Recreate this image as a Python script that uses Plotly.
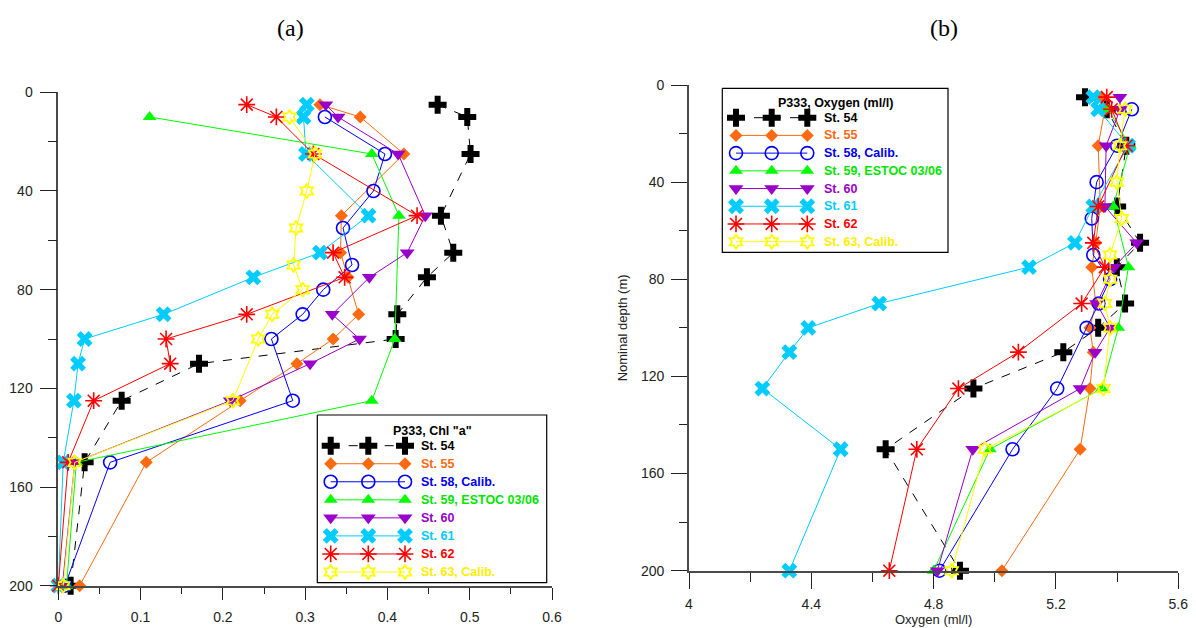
import plotly.graph_objects as go

# ---------------- data ----------------
stations = ["St. 54", "St. 55", "St. 58, Calib.", "St. 59, ESTOC 03/06",
            "St. 60", "St. 61", "St. 62", "St. 63, Calib."]

depth_std = [5, 10, 25, 50, 65, 75, 90, 100, 110, 125, 150, 200]
depth_cal = [10, 25, 40, 55, 70, 80, 90, 100, 125, 150, 200]
depth_59_chl = [10, 25, 50, 100, 125, 150, 200]
depth_59_ox = [10, 25, 50, 75, 100, 125, 150, 200]
depth_62_ox = [5, 10, 25, 50, 65, 75, 90, 110, 125, 150, 200]

# Chl "a" (panel a)
chl_54 = [0.461, 0.497, 0.501, 0.465, 0.480, 0.448, 0.412, 0.410, 0.171, 0.077, 0.032, 0.015]
chl_55 = [0.318, 0.367, 0.420, 0.344, 0.343, 0.352, 0.365, 0.334, 0.290, 0.221, 0.107, 0.026]
chl_58 = [0.324, 0.397, 0.383, 0.346, 0.357, 0.322, 0.297, 0.259, 0.285, 0.063, 0.008]
chl_59 = [0.111, 0.381, 0.414, 0.409, 0.381, 0.022, 0.010]
chl_60 = [0.325, 0.340, 0.413, 0.446, 0.424, 0.378, 0.333, 0.366, 0.306, 0.209, 0.020, 0.005]
chl_61 = [0.302, 0.298, 0.301, 0.377, 0.318, 0.237, 0.128, 0.032, 0.024, 0.019, 0.006, 0.000]
chl_62 = [0.229, 0.265, 0.310, 0.436, 0.334, 0.348, 0.229, 0.131, 0.136, 0.043, 0.012, 0.000]
chl_63 = [0.281, 0.312, 0.302, 0.289, 0.286, 0.297, 0.260, 0.243, 0.212, 0.020, 0.006]

# Oxygen (panel b)
ox_54 = [5.295, 5.366, 5.430, 5.400, 5.475, 5.399, 5.426, 5.338, 5.224, 4.930, 4.643, 4.886]
ox_55 = [5.350, 5.360, 5.338, 5.345, 5.330, 5.317, 5.330, 5.311, 5.322, 5.311, 5.279, 5.023]
ox_58 = [5.448, 5.400, 5.333, 5.317, 5.322, 5.377, 5.340, 5.300, 5.204, 5.058, 4.819]
ox_59 = [5.370, 5.442, 5.387, 5.437, 5.404, 5.350, 4.984, 4.800]
ox_60 = [5.409, 5.410, 5.364, 5.360, 5.464, 5.390, 5.333, 5.377, 5.328, 5.279, 4.928, 4.812]
ox_61 = [5.322, 5.338, 5.436, 5.322, 5.262, 5.112, 4.622, 4.390, 4.328, 4.240, 4.496, 4.328]
ox_62 = [5.366, 5.382, 5.431, 5.338, 5.322, 5.360, 5.284, 5.077, 4.881, 4.745, 4.655]
ox_63 = [5.426, 5.409, 5.399, 5.415, 5.377, 5.377, 5.360, 5.377, 5.355, 4.968, 4.859]

chl_x = [chl_54, chl_55, chl_58, chl_59, chl_60, chl_61, chl_62, chl_63]
chl_y = [depth_std, depth_std, depth_cal, depth_59_chl, depth_std, depth_std, depth_std, depth_cal]
ox_x = [ox_54, ox_55, ox_58, ox_59, ox_60, ox_61, ox_62, ox_63]
ox_y = [depth_std, depth_std, depth_cal, depth_59_ox, depth_std, depth_std, depth_62_ox, depth_cal]

chl_ticks = [0, 0.1, 0.2, 0.3, 0.4, 0.5, 0.6]
chl_ticktext = ["0", "0.1", "0.2", "0.3", "0.4", "0.5", "0.6"]
ox_ticks = [4.0, 4.4, 4.8, 5.2, 5.6]
ox_ticktext = ["4", "4.4", "4.8", "5.2", "5.6"]
depth_ticks = [0, 40, 80, 120, 160, 200]

# ---------------- styles ----------------
colors = ["#000000", "#FF6A10", "#0000FF", "#00FF00", "#9900CC", "#00CCFF", "#FF0000", "#FFFF00"]
text_colors = ["#000000", "#FF6A10", "#0000EE", "#00E600", "#9900CC", "#00CCFF", "#FF0000", "#FFEE00"]
symbols = ["cross", "diamond", "circle-open", "triangle-up", "triangle-down", "x", "asterisk-open", "hexagram-open"]
sizes = [15, 10, 13, 12, 13, 14, 14, 11]
mlw = [0, 0, 1.6, 0, 0, 0, 1.6, 1.8]
dashes = ["dash", "solid", "solid", "solid", "solid", "solid", "solid", "solid"]

W, H = 1196, 628
FONT = "Arial, Liberation Sans, sans-serif"

fig = go.Figure()


def marker(i):
    return dict(symbol=symbols[i], size=sizes[i], color=colors[i],
                line=dict(color=colors[i], width=mlw[i]))


for i in range(8):
    fig.add_trace(go.Scatter(x=chl_x[i], y=chl_y[i], mode="lines+markers",
                             line=dict(color=colors[i], width=1, dash=dashes[i]),
                             marker=marker(i), cliponaxis=False, showlegend=False,
                             xaxis="x", yaxis="y"))
for i in range(8):
    fig.add_trace(go.Scatter(x=ox_x[i], y=ox_y[i], mode="lines+markers",
                             line=dict(color=colors[i], width=1, dash=dashes[i]),
                             marker=marker(i), cliponaxis=False, showlegend=False,
                             xaxis="x2", yaxis="y2"))

# ---------------- custom legends (pixel overlay axis) ----------------
legends = [
    dict(box=(317.3, 546.7, 415.0, 582.7), title='P333, Chl "a"', title_y=431.0,
         row0=445.7, dy=18.04, xs=(330.7, 368.3, 405.0), tx=418.5),
    dict(box=(722.3, 948.0, 88.3, 252.3), title="P333, Oxygen (ml/l)", title_y=103.3,
         row0=117.7, dy=17.71, xs=(736.0, 771.7, 807.3), tx=822.0),
]
annotations = []
for lg in legends:
    x0, x1, y0, y1 = lg["box"]
    fig.add_trace(go.Scatter(x=[x0, x1, x1, x0, x0], y=[y0, y0, y1, y1, y0], mode="lines",
                             fill="toself", fillcolor="white",
                             line=dict(color="#000000", width=1.2),
                             showlegend=False, hoverinfo="skip", xaxis="x3", yaxis="y3"))
    annotations.append(dict(x=(x0 + x1) / 2, y=lg["title_y"], xref="x3", yref="y3",
                            text="<b>" + lg["title"] + "</b>", showarrow=False,
                            xanchor="center", yanchor="middle",
                            font=dict(family=FONT, size=12.5, color="#000000")))
    for i in range(8):
        yy = lg["row0"] + i * lg["dy"]
        fig.add_trace(go.Scatter(x=list(lg["xs"]), y=[yy] * 3, mode="lines+markers",
                                 line=dict(color=colors[i], width=1, dash=dashes[i]),
                                 marker=marker(i), cliponaxis=False, showlegend=False,
                                 hoverinfo="skip", xaxis="x3", yaxis="y3"))
        annotations.append(dict(x=lg["tx"], y=yy, xref="x3", yref="y3",
                                text="<b>" + stations[i] + "</b>", showarrow=False,
                                xanchor="left", yanchor="middle",
                                font=dict(family=FONT, size=12.5, color=text_colors[i])))

annotations.append(dict(x=290 / W, y=1 - 28 / H, xref="paper", yref="paper", text="(a)",
                        showarrow=False, xanchor="center", yanchor="middle",
                        font=dict(family="Times New Roman, Liberation Serif, serif", size=24, color="#000")))
annotations.append(dict(x=944 / W, y=1 - 28 / H, xref="paper", yref="paper", text="(b)",
                        showarrow=False, xanchor="center", yanchor="middle",
                        font=dict(family="Times New Roman, Liberation Serif, serif", size=24, color="#000")))

common = dict(showline=True, linecolor="#4a4a4a", linewidth=1.6, ticks="outside",
              tickcolor="#222222", tickwidth=1.2, showgrid=False, zeroline=False,
              automargin=False,
              tickfont=dict(family=FONT, size=14, color="#222222"))

fig.update_layout(
    width=W, height=H, autosize=False,
    margin=dict(l=0, r=0, t=0, b=0, pad=0, autoexpand=False),
    paper_bgcolor="white", plot_bgcolor="rgba(0,0,0,0)",
    showlegend=False,
    xaxis=dict(common, domain=[58.3 / W, 552.0 / W], range=[0, 0.6], anchor="y",
               tickvals=chl_ticks, ticktext=chl_ticktext, ticklen=12, ticklabelstandoff=6,
               minor=dict(ticks="outside", dtick=0.05, tick0=0, ticklen=6, tickcolor="#222222", tickwidth=1.2)),
    yaxis=dict(common, domain=[1 - 585.7 / H, 1 - 92.3 / H], range=[200, 0], anchor="x",
               tickvals=depth_ticks, ticklen=17, ticklabelstandoff=4,
               minor=dict(ticks="outside", dtick=20, tick0=0, ticklen=9, tickcolor="#222222", tickwidth=1.2)),
    xaxis2=dict(common, domain=[689.0 / W, 1178.3 / W], range=[4.0, 5.6], anchor="y2",
                tickvals=ox_ticks, ticktext=ox_ticktext, ticklen=16, ticklabelstandoff=4,
                title=dict(text="Oxygen (ml/l)", font=dict(family=FONT, size=13, color="#222222"), standoff=0),
                minor=dict(ticks="outside", dtick=0.2, tick0=4.0, ticklen=9, tickcolor="#222222", tickwidth=1.2)),
    yaxis2=dict(common, domain=[1 - 570.7 / H, 1 - 85.0 / H], range=[200, 0], anchor="x2",
                tickvals=depth_ticks, ticklen=16, ticklabelstandoff=4,
                title=dict(text="Nominal depth (m)", font=dict(family=FONT, size=13, color="#222222"), standoff=10),
                minor=dict(ticks="outside", dtick=20, tick0=0, ticklen=8, tickcolor="#222222", tickwidth=1.2)),
    xaxis3=dict(domain=[0, 1], range=[0, W], visible=False, anchor="y3", fixedrange=True),
    yaxis3=dict(domain=[0, 1], range=[H, 0], visible=False, anchor="x3", fixedrange=True),
    annotations=annotations,
)

fig.write_html("out.html")
